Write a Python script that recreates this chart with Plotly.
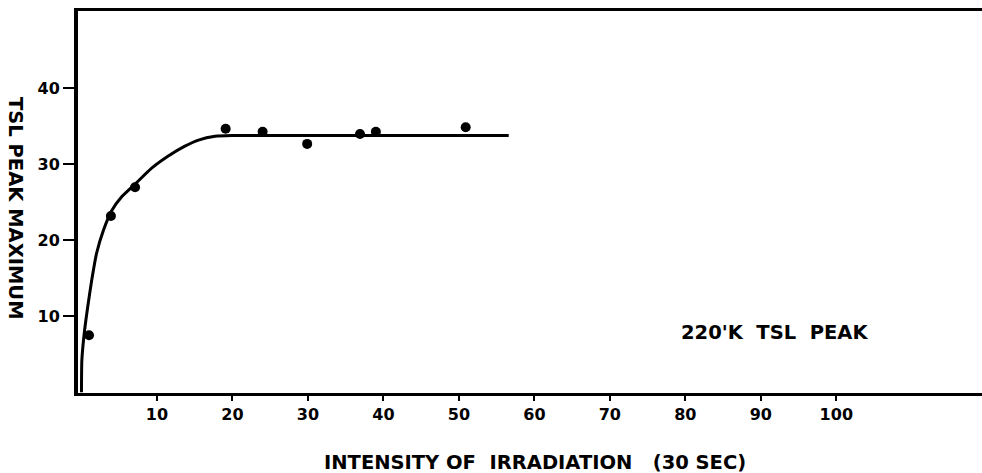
import plotly.graph_objects as go

# Measured data points
point_x = [1.0, 3.9, 7.1, 19.1, 24.0, 29.9, 36.9, 39.0, 50.9]
point_y = [7.5, 23.2, 27.0, 34.7, 34.3, 32.7, 34.0, 34.3, 34.9]

# Hand-drawn fitted curve
curve_x = [0.0, 0.05, 0.37, 0.82, 1.35, 2.0, 2.9, 4.0, 5.3, 7.1, 9.3, 11.5, 13.7, 15.5, 17.7, 19.9, 30.0, 56.6]
curve_y = [0.0, 4.2, 7.8, 11.2, 14.7, 18.3, 21.3, 23.9, 25.7, 27.4, 29.5, 31.1, 32.4, 33.2, 33.7, 33.8, 33.8, 33.8]

x_ticks = [10, 20, 30, 40, 50, 60, 70, 80, 90, 100]
y_ticks = [10, 20, 30, 40]

FONT = "DejaVu Sans"
NB = "\u00a0"

fig = go.Figure()
fig.add_trace(go.Scatter(x=curve_x, y=curve_y, mode="lines",
                         line=dict(color="black", width=3, shape="spline", smoothing=0.5),
                         hoverinfo="skip", showlegend=False))
fig.add_trace(go.Scatter(x=point_x, y=point_y, mode="markers",
                         marker=dict(color="black", size=10),
                         showlegend=False))

fig.update_layout(
    width=982, height=473,
    margin=dict(l=78, r=0, t=11, b=80),
    plot_bgcolor="white", paper_bgcolor="white",
    font=dict(family=FONT, color="black"),
    xaxis=dict(range=[-0.46, 119.3], tickvals=x_ticks, ticktext=[str(v) for v in x_ticks],
               ticks="outside", ticklen=5, tickwidth=2, tickcolor="black",
               showline=True, linecolor="black", linewidth=3, mirror=True,
               showgrid=False, zeroline=False,
               tickfont=dict(family=FONT, size=16, weight="bold")),
    yaxis=dict(range=[-0.1, 50.2], tickvals=y_ticks, ticktext=[str(v) for v in y_ticks],
               ticks="outside", ticklen=11, tickwidth=2, tickcolor="black",
               showline=True, linecolor="black", linewidth=4,
               showgrid=False, zeroline=False,
               tickfont=dict(family=FONT, size=16, weight="bold")),
)

fig.add_annotation(text="INTENSITY OF" + NB + " IRRADIATION" + NB + NB + " (30 SEC)",
                   xref="paper", yref="paper",
                   x=(535 - 78) / 904, y=-(462 - 393) / 382, showarrow=False,
                   xanchor="center", yanchor="middle",
                   font=dict(family=FONT, size=19.5, weight="bold"))
fig.add_annotation(text="TSL PEAK MAXIMUM", xref="paper", yref="paper",
                   x=-(78 - 16) / 904, y=(393 - 208) / 382, showarrow=False,
                   textangle=90, xanchor="center", yanchor="middle",
                   font=dict(family=FONT, size=19.5, weight="bold"))
fig.add_annotation(text="220'K" + NB + " TSL" + NB + " PEAK", xref="paper", yref="paper",
                   x=(774 - 78) / 904, y=(393 - 332) / 382, showarrow=False,
                   xanchor="center", yanchor="middle",
                   font=dict(family=FONT, size=19.5, weight="bold"))

fig.write_html("out.html", config={"displayModeBar": False},
               post_script="document.body.style.margin='0px';document.body.style.overflow='hidden';")
